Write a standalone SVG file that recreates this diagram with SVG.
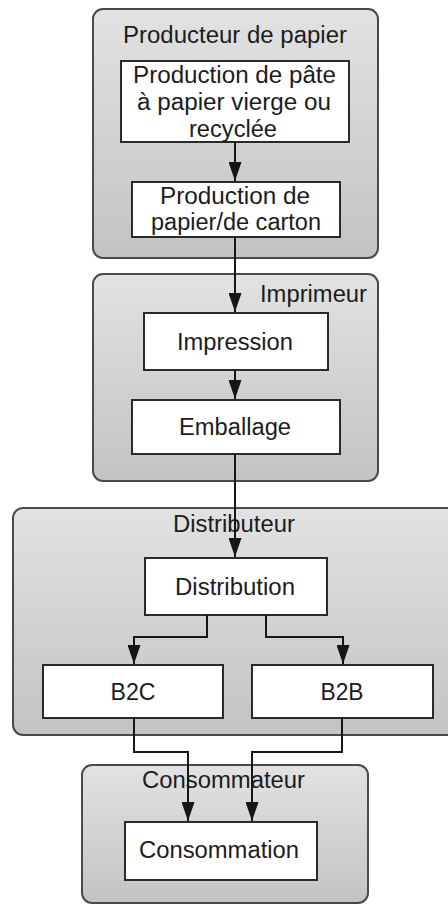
<svg xmlns="http://www.w3.org/2000/svg" width="448" height="905" viewBox="0 0 448 905">
  <defs>
    <linearGradient id="laneFill" x1="0" y1="0" x2="0" y2="1">
      <stop offset="0" stop-color="#e2e2e2"/>
      <stop offset="1" stop-color="#c3c3c3"/>
    </linearGradient>
    <marker id="arrow" markerUnits="userSpaceOnUse" markerWidth="19" markerHeight="13" refX="19" refY="6.5" orient="auto" viewBox="0 0 19 13">
      <path d="M0,0 L19,6.5 L0,13 Z" fill="#161616"/>
    </marker>
    <style>
      .lane { fill: url(#laneFill); stroke: #4a4a4a; stroke-width: 2; }
      .box { fill: #ffffff; stroke: #2a2a2a; stroke-width: 2; }
      text { font-family: "Liberation Sans", Arial, sans-serif; font-size: 23px; fill: #1c1c1c; text-anchor: middle; }
      .wire { fill: none; stroke: #161616; stroke-width: 2; marker-end: url(#arrow); }
    </style>
  </defs>

  <!-- Lanes -->
  <g id="lane-producteur">
    <rect class="lane" x="93" y="9" width="285" height="249" rx="10"/>
    <text x="235" y="43" textLength="224" lengthAdjust="spacingAndGlyphs">Producteur de papier</text>
  </g>
  <g id="lane-imprimeur">
    <rect class="lane" x="93" y="274" width="285" height="207" rx="10"/>
    <text x="313.5" y="302" textLength="107" lengthAdjust="spacingAndGlyphs">Imprimeur</text>
  </g>
  <g id="lane-distributeur">
    <rect class="lane" x="13" y="508" width="450" height="227" rx="10"/>
    <text x="234" y="532" textLength="122" lengthAdjust="spacingAndGlyphs">Distributeur</text>
  </g>
  <g id="lane-consommateur">
    <rect class="lane" x="82" y="765" width="286" height="138" rx="10"/>
    <text x="223.5" y="788" textLength="163" lengthAdjust="spacingAndGlyphs">Consommateur</text>
  </g>

  <!-- Steps -->
  <g id="pate">
    <rect class="box" x="121" y="61" width="228" height="81"/>
    <text x="234.5" y="83" textLength="203" lengthAdjust="spacingAndGlyphs">Production de pâte</text>
    <text x="234" y="110" textLength="194" lengthAdjust="spacingAndGlyphs">à papier vierge ou</text>
    <text x="233" y="137" textLength="88" lengthAdjust="spacingAndGlyphs">recyclée</text>
  </g>
  <g id="papier-carton">
    <rect class="box" x="132" y="182" width="208" height="55"/>
    <text x="235" y="204" textLength="150" lengthAdjust="spacingAndGlyphs">Production de</text>
    <text x="236" y="230" textLength="170" lengthAdjust="spacingAndGlyphs">papier/de carton</text>
  </g>
  <g id="impression">
    <rect class="box" x="144" y="313" width="184" height="57"/>
    <text x="235" y="350" textLength="116" lengthAdjust="spacingAndGlyphs">Impression</text>
  </g>
  <g id="emballage">
    <rect class="box" x="132" y="400" width="208" height="54"/>
    <text x="235" y="435" textLength="112" lengthAdjust="spacingAndGlyphs">Emballage</text>
  </g>
  <g id="distribution">
    <rect class="box" x="145" y="558" width="182" height="57"/>
    <text x="235" y="595" textLength="120" lengthAdjust="spacingAndGlyphs">Distribution</text>
  </g>
  <g id="b2c">
    <rect class="box" x="43" y="665" width="180" height="53"/>
    <text x="133" y="700" textLength="45" lengthAdjust="spacingAndGlyphs">B2C</text>
  </g>
  <g id="b2b">
    <rect class="box" x="252" y="665" width="181" height="53"/>
    <text x="342" y="700" textLength="43" lengthAdjust="spacingAndGlyphs">B2B</text>
  </g>
  <g id="consommation">
    <rect class="box" x="125" y="822" width="192" height="58"/>
    <text x="219" y="858" textLength="160" lengthAdjust="spacingAndGlyphs">Consommation</text>
  </g>

  <!-- Flow -->
  <g id="connectors">
    <path class="wire" d="M235,142 V181"/>
    <path class="wire" d="M235,237 V312"/>
    <path class="wire" d="M235,370 V399"/>
    <path class="wire" d="M235,454 V557"/>
    <path class="wire" d="M207,615 V637 H134 V664"/>
    <path class="wire" d="M266,615 V637 H343 V664"/>
    <path class="wire" d="M134,718 V752 H188 V821"/>
    <path class="wire" d="M342,718 V752 H252 V821"/>
  </g>
</svg>
